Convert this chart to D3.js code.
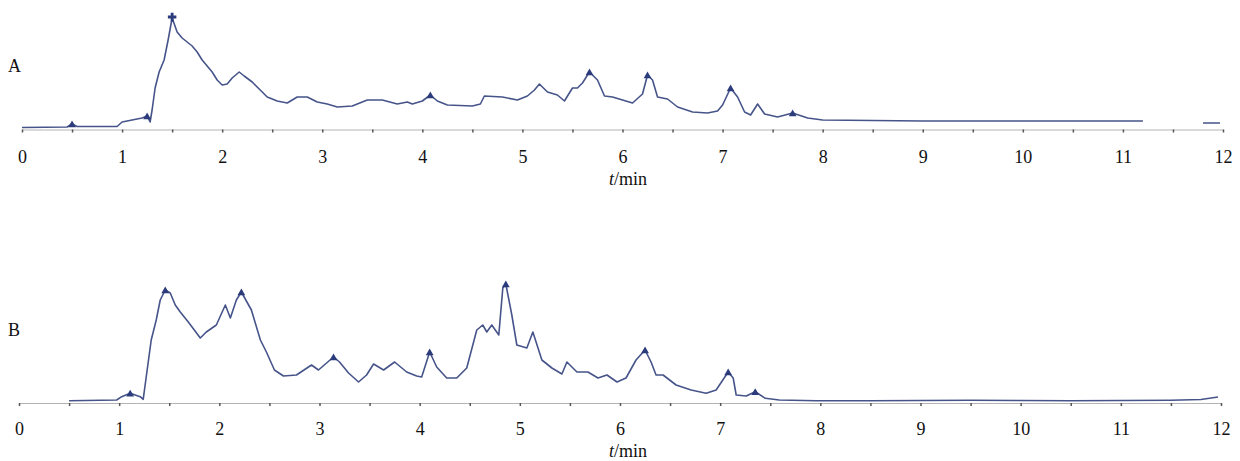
<!DOCTYPE html>
<html>
<head>
<meta charset="utf-8">
<script src="https://cdn.jsdelivr.net/npm/d3@7"></script>
<style>
  body { margin: 0; background: #fff; }
  svg { display: block; }
  svg text { font-family: "Liberation Serif", "Times New Roman", Times, serif; }
</style>
</head>
<body>
<script>
// retention time ticks (min)
var tickValues = d3.range(0, 12.01, 0.5);

// chromatogram A: time (min), signal (a.u.); null = gap in trace
var timeA = [0, 0.45, 0.5, 0.55, 0.95, 1.0, 1.1, 1.2, 1.25, 1.28, 1.3, 1.33, 1.37, 1.42, 1.46, 1.5,
  1.55, 1.6, 1.65, 1.7, 1.75, 1.8, 1.85, 1.9, 1.95, 2.0, 2.05, 2.1, 2.17, 2.22, 2.3, 2.38, 2.45,
  2.55, 2.65, 2.75, 2.85, 2.95, 3.05, 3.15, 3.3, 3.45, 3.6, 3.75, 3.85, 3.9, 4.0, 4.08, 4.15, 4.25,
  4.5, 4.58, 4.62, 4.8, 4.95, 5.05, 5.12, 5.17, 5.25, 5.35, 5.42, 5.5, 5.55, 5.6, 5.67, 5.75, 5.82,
  5.9, 6.0, 6.1, 6.2, 6.25, 6.3, 6.35, 6.45, 6.55, 6.7, 6.85, 6.95, 7.0, 7.08, 7.15, 7.22, 7.28,
  7.35, 7.42, 7.55, 7.7, 7.85, 8.0, 8.5, 9.0, 9.5, 10.0, 10.5, 11.2, 11.5, 11.8, 11.97];
var signalA = [0.5, 1, 4, 1.5, 1.5, 6, 8, 10, 12, 6, 18, 40, 56, 68, 88, 110,
  96, 90, 86, 82, 76, 68, 62, 56, 48, 43, 44, 50, 56, 52, 46, 38, 31,
  27, 25, 31, 31, 26, 24, 21, 22, 28, 28, 24, 26, 24, 27, 33, 27, 23,
  22, 24, 32, 31, 28, 32, 38, 44, 36, 33, 27, 40, 40, 45, 56, 48, 32,
  31, 28, 25, 34, 53, 48, 31, 29, 21, 16, 15, 17, 23, 40, 31, 16, 13,
  24, 14, 11, 15, 10, 8, 7.5, 7, 7, 7, 7, 7, null, 5, 5];

// chromatogram B
var timeB = [0.5, 0.975, 1.025, 1.11, 1.21, 1.24, 1.27, 1.32, 1.37, 1.41, 1.46, 1.51, 1.56, 1.61,
  1.69, 1.81, 1.87, 1.97, 2.06, 2.11, 2.17, 2.22, 2.32, 2.41, 2.47, 2.55, 2.64, 2.77, 2.92, 2.99,
  3.14, 3.2, 3.29, 3.39, 3.47, 3.54, 3.64, 3.75, 3.87, 3.97, 4.02, 4.1, 4.17, 4.27, 4.37, 4.47,
  4.57, 4.63, 4.67, 4.72, 4.79, 4.83, 4.86, 4.92, 4.97, 5.07, 5.13, 5.22, 5.32, 5.42, 5.47, 5.57,
  5.68, 5.78, 5.87, 5.97, 6.06, 6.16, 6.25, 6.31, 6.36, 6.43, 6.56, 6.71, 6.86, 6.96, 7.08, 7.13,
  7.16, 7.26, 7.35, 7.45, 7.59, 7.96, 8.5, 9.0, 9.5, 10.0, 10.5, 11.0, 11.5, 11.8, 11.97];
var signalB = [0.3, 1, 4.3, 7.7, 4.3, 1.7, 24, 61, 81, 101, 111, 108, 96, 89,
  79, 63, 69, 76, 96, 83, 101, 109, 91, 61, 49, 31, 25, 26, 36, 31,
  44, 39, 28, 19, 26, 37, 31, 39, 29, 25, 24, 49, 34, 23, 23, 33,
  71, 76, 69, 76, 66, 113, 117, 86, 56, 53, 69, 41, 33, 27, 39, 29,
  29, 23, 26, 19, 23, 41, 51, 39, 26, 26, 16, 11, 7.7, 11, 29, 23,
  6, 5, 9.3, 2.7, 1, 0.3, 0.3, 0.5, 0.8, 0.5, 0.3, 0.5, 0.8, 1.5, 4];

// marked peaks
var marksA = [0.5, 1.25, 4.08, 5.67, 6.25, 7.08, 7.7];
var plusA = [1.5];
var marksB = [1.11, 1.46, 2.22, 3.14, 4.1, 4.86, 6.25, 7.08, 7.35];

var W = 1240, H = 461;
var svg = d3.select("body").append("svg").attr("width", W).attr("height", H);

var panels = [
  {name: "A", t: timeA, s: signalA, marks: marksA, plus: plusA,
   x0: 22, x1: 1223, base: 128, axisY: 129.5, labelOff: 33.5, labelY: 72, titleY: 185},
  {name: "B", t: timeB, s: signalB, marks: marksB, plus: [],
   x0: 19, x1: 1221, base: 401, axisY: 403, labelOff: 32, labelY: 336, titleY: 457}
];

var lineColor = "#46548a", markColor = "#2b3b7b";

panels.forEach(function(p) {
  var x = d3.scaleLinear().domain([0, 12]).range([p.x0, p.x1]);
  var y = d3.scaleLinear().domain([0, 120]).range([p.base, p.base - 120]);
  var g = svg.append("g");

  // axis
  var axis = d3.axisBottom(x)
      .tickValues(tickValues)
      .tickSize(3)
      .tickSizeOuter(0)
      .tickFormat(function(d) { return Number.isInteger(d) ? d : ""; });
  var ax = g.append("g")
      .attr("transform", "translate(0," + p.axisY + ")")
      .call(axis)
      .attr("font-family", null);
  ax.select(".domain").attr("stroke", "#b4b4b4").attr("stroke-width", 1);
  ax.selectAll(".tick line").attr("stroke", "#555").attr("stroke-width", 1.5);
  ax.selectAll(".tick text")
      .attr("y", p.labelOff)
      .attr("dy", null)
      .attr("fill", "#111")
      .style("font-size", "18px");

  // x title
  var title = g.append("text")
      .attr("x", 628).attr("y", p.titleY)
      .attr("text-anchor", "middle")
      .style("font-size", "18px")
      .attr("fill", "#111");
  title.append("tspan").style("font-style", "italic").text("t");
  title.append("tspan").text("/min");

  // panel letter
  g.append("text")
      .attr("x", 8).attr("y", p.labelY)
      .style("font-size", "18px")
      .attr("fill", "#111")
      .text(p.name);

  // trace
  var pts = p.t.map(function(d, i) { return [d, p.s[i]]; });
  var line = d3.line()
      .defined(function(d) { return d[1] !== null; })
      .x(function(d) { return x(d[0]); })
      .y(function(d) { return y(d[1]); });
  g.append("path")
      .datum(pts)
      .attr("fill", "none")
      .attr("stroke", lineColor)
      .attr("stroke-width", 1.6)
      .attr("stroke-linejoin", "round")
      .attr("d", line);

  function valueAt(t) {
    var i = d3.leastIndex(p.t, function(a, b) { return Math.abs(a - t) - Math.abs(b - t); });
    return p.s[i];
  }

  // peak triangles
  g.selectAll("path.mark")
    .data(p.marks)
    .enter().append("path")
      .attr("class", "mark")
      .attr("fill", markColor)
      .attr("d", d3.symbol().type(d3.symbolTriangle).size(26))
      .attr("transform", function(d) {
        return "translate(" + x(d) + "," + (y(valueAt(d)) + 1) + ")";
      });

  // plus marker
  g.selectAll("path.plus")
    .data(p.plus)
    .enter().append("path")
      .attr("class", "plus")
      .attr("fill", markColor)
      .attr("d", d3.symbol().type(d3.symbolCross).size(40))
      .attr("transform", function(d) {
        return "translate(" + x(d) + "," + (y(valueAt(d)) - 1) + ")";
      });
});
</script>
</body>
</html>
